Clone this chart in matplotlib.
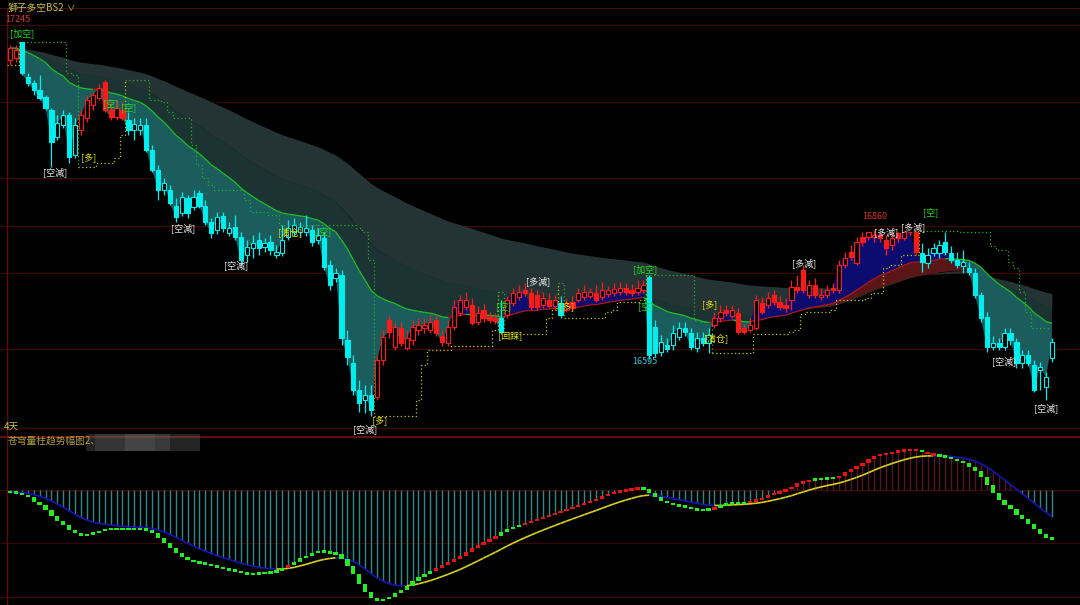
import numpy as np
import pandas as pd
import matplotlib
matplotlib.use('Agg')
import matplotlib.pyplot as plt
from matplotlib.collections import LineCollection

plt.rcParams['font.family'] = ['Noto Sans CJK SC', 'DejaVu Sans']

# ---- price bars ----
open_ = [17208, 17212, 17245, 17173, 17161, 17147, 17132, 17106, 17050, 17075,
         17095, 17013, 17065, 17089, 17116, 17130, 17163, 17106, 17091, 17106,
         17085, 17065, 17065, 17075, 17024, 16983, 16942, 16942, 16909, 16894,
         16925, 16907, 16935, 16909, 16876, 16860, 16888, 16853, 16866, 16845,
         16808, 16823, 16839, 16825, 16835, 16808, 16812, 16845, 16855, 16855,
         16855, 16860, 16839, 16843, 16788, 16761, 16767, 16634, 16587, 16531,
         16511, 16521, 16517, 16593, 16675, 16620, 16659, 16618, 16634, 16655,
         16659, 16655, 16675, 16642, 16628, 16661, 16689, 16702, 16706, 16671,
         16696, 16681, 16679, 16679, 16685, 16710, 16722, 16737, 16730, 16726,
         16706, 16716, 16704, 16710, 16696, 16712, 16716, 16722, 16724, 16730,
         16722, 16728, 16730, 16732, 16741, 16737, 16732, 16737, 16763, 16661,
         16609, 16624, 16624, 16640, 16659, 16648, 16618, 16638, 16628, 16665,
         16679, 16696, 16683, 16689, 16659, 16655, 16659, 16710, 16706, 16726,
         16712, 16706, 16716, 16743, 16778, 16726, 16747, 16722, 16726, 16741,
         16737, 16788, 16814, 16792, 16845, 16845, 16845, 16849, 16839, 16829,
         16853, 16843, 16856, 16855, 16812, 16792, 16812, 16812, 16835, 16812,
         16798, 16786, 16782, 16771, 16726, 16681, 16620, 16628, 16620, 16648,
         16630, 16587, 16603, 16583, 16573, 16538, 16597]
high = [17239, 17239, 17245, 17181, 17167, 17177, 17136, 17110, 17095, 17106,
        17101, 17089, 17106, 17136, 17142, 17159, 17167, 17126, 17126, 17122,
        17101, 17089, 17089, 17089, 17034, 16993, 16966, 16952, 16925, 16937,
        16931, 16942, 16942, 16921, 16884, 16896, 16896, 16876, 16890, 16855,
        16839, 16849, 16855, 16843, 16849, 16829, 16870, 16880, 16884, 16876,
        16890, 16870, 16864, 16855, 16798, 16782, 16778, 16655, 16603, 16552,
        16542, 16542, 16603, 16655, 16685, 16671, 16671, 16655, 16675, 16679,
        16679, 16685, 16685, 16655, 16675, 16716, 16726, 16732, 16720, 16704,
        16708, 16691, 16689, 16716, 16724, 16741, 16747, 16751, 16741, 16737,
        16732, 16730, 16726, 16724, 16720, 16724, 16741, 16747, 16741, 16747,
        16753, 16745, 16751, 16753, 16751, 16749, 16757, 16757, 16767, 16675,
        16644, 16638, 16665, 16671, 16671, 16659, 16650, 16650, 16659, 16691,
        16706, 16706, 16706, 16700, 16667, 16679, 16726, 16722, 16732, 16737,
        16724, 16720, 16757, 16767, 16788, 16757, 16761, 16741, 16747, 16751,
        16798, 16814, 16829, 16845, 16855, 16856, 16860, 16856, 16849, 16855,
        16855, 16858, 16858, 16858, 16833, 16823, 16833, 16839, 16855, 16827,
        16814, 16819, 16794, 16782, 16732, 16691, 16642, 16638, 16659, 16659,
        16638, 16614, 16614, 16593, 16589, 16568, 16638]
low = [17198, 17204, 17177, 17155, 17136, 17126, 17106, 16989, 17044, 17069,
       16997, 17007, 17054, 17081, 17106, 17126, 17101, 17085, 17085, 17085,
       17054, 17044, 17054, 17019, 16978, 16921, 16931, 16911, 16876, 16888,
       16884, 16901, 16905, 16870, 16843, 16851, 16855, 16847, 16839, 16788,
       16794, 16802, 16808, 16814, 16808, 16802, 16806, 16839, 16847, 16847,
       16847, 16827, 16831, 16778, 16737, 16753, 16624, 16583, 16521, 16486,
       16484, 16478, 16511, 16583, 16638, 16614, 16622, 16614, 16624, 16644,
       16648, 16648, 16642, 16622, 16622, 16655, 16683, 16696, 16665, 16665,
       16671, 16669, 16667, 16646, 16679, 16704, 16716, 16724, 16696, 16696,
       16700, 16700, 16696, 16679, 16691, 16696, 16712, 16716, 16720, 16712,
       16716, 16722, 16724, 16726, 16726, 16724, 16726, 16730, 16595, 16599,
       16601, 16609, 16614, 16634, 16642, 16614, 16609, 16622, 16607, 16659,
       16671, 16683, 16679, 16646, 16646, 16650, 16655, 16687, 16700, 16706,
       16696, 16691, 16696, 16730, 16730, 16720, 16720, 16716, 16720, 16730,
       16730, 16782, 16798, 16788, 16827, 16839, 16835, 16835, 16808, 16819,
       16835, 16839, 16849, 16808, 16773, 16782, 16806, 16802, 16808, 16792,
       16782, 16771, 16767, 16720, 16671, 16609, 16614, 16614, 16614, 16624,
       16577, 16577, 16581, 16527, 16531, 16511, 16589]
close = [17233, 17229, 17181, 17161, 17147, 17130, 17110, 17040, 17079, 17095,
         17009, 17075, 17095, 17126, 17136, 17151, 17106, 17091, 17110, 17089,
         17065, 17077, 17075, 17024, 16983, 16942, 16956, 16915, 16886, 16927,
         16894, 16927, 16909, 16876, 16853, 16886, 16864, 16864, 16845, 16798,
         16825, 16833, 16823, 16833, 16819, 16814, 16839, 16864, 16870, 16866,
         16864, 16835, 16849, 16784, 16747, 16771, 16638, 16599, 16531, 16505,
         16521, 16490, 16593, 16640, 16650, 16661, 16628, 16638, 16661, 16665,
         16665, 16671, 16648, 16630, 16661, 16702, 16716, 16716, 16669, 16689,
         16679, 16675, 16673, 16650, 16716, 16730, 16732, 16730, 16702, 16702,
         16720, 16704, 16716, 16685, 16710, 16700, 16730, 16732, 16732, 16716,
         16737, 16737, 16739, 16741, 16732, 16730, 16741, 16747, 16603, 16607,
         16630, 16616, 16648, 16659, 16650, 16620, 16638, 16628, 16644, 16679,
         16691, 16689, 16696, 16650, 16650, 16665, 16716, 16691, 16720, 16712,
         16702, 16700, 16743, 16737, 16737, 16747, 16726, 16726, 16737, 16737,
         16788, 16802, 16804, 16835, 16835, 16855, 16849, 16843, 16823, 16843,
         16843, 16856, 16855, 16814, 16794, 16808, 16823, 16829, 16814, 16798,
         16788, 16794, 16773, 16726, 16679, 16620, 16628, 16620, 16648, 16634,
         16587, 16603, 16587, 16531, 16579, 16558, 16630]

# trend state of the candles: first bar of each run
trend_start = [0, 2, 12, 20, 62, 83, 84, 93, 94, 108, 119, 154]
trend_kind = ['up', 'dn', 'up', 'dn', 'up', 'dn', 'up', 'dn', 'up', 'dn', 'up', 'dn']

# ---- lower oscillator ----
osc = [-2, -3, -5, -7, -12, -15, -20, -26, -31, -35,
       -40, -43, -46, -44, -43, -41, -39, -39, -39, -39,
       -39, -39, -39, -40, -43, -48, -53, -58, -63, -67,
       -70, -72, -73, -74, -76, -77, -79, -80, -81, -83,
       -84, -84, -83, -83, -82, -81, -78, -75, -72, -68,
       -66, -63, -61, -62, -63, -64, -69, -76, -84, -94,
       -102, -108, -111, -109, -107, -103, -100, -96, -91, -87,
       -84, -81, -78, -75, -72, -69, -66, -62, -58, -55,
       -52, -49, -46, -42, -39, -37, -35, -33, -31, -29,
       -27, -25, -23, -21, -19, -17, -15, -13, -11, -9,
       -6, -4, -2, -1, 0, 1, 2, 1, -3, -7,
       -11, -13, -15, -16, -17, -19, -20, -20, -19, -18,
       -15, -14, -13, -13, -13, -11, -10, -8, -5, -3,
       -2, 1, 3, 7, 8, 10, 11, 11, 12, 12,
       14, 18, 21, 24, 27, 31, 34, 36, 36, 38,
       39, 40, 40, 40, 38, 36, 35, 34, 33, 31,
       29, 27, 23, 19, 13, 5, -3, -10, -15, -19,
       -25, -29, -34, -39, -44, -48, -49]
sq_start = [0, 47, 48, 72, 83, 87, 107, 119, 120, 125, 136, 140, 154, 155, 157]
sq_kind = ['g', 'r', 'g', 'r', 'g', 'r', 'g', 'r', 'g', 'r', 'g', 'r', 'g', 'r', 'g']

# ---- signal labels ----
lab_idx = [2, 17, 20, 7.6, 13.2, 29.2, 38.2, 47.3, 53, 60, 62.5, 89.2, 83.3, 84.5,
           94, 107.3, 107.3, 118.2, 119.3, 134.1, 148, 152.5, 155.5, 168, 175]
lab_price = [17263, 17118, 17110, 16978, 17007, 16864, 16788, 16855, 16855, 16450,
             16468, 16755, 16702, 16642, 16700, 16780, 16702, 16704, 16638, 16792,
             16855, 16866, 16894, 16591, 16495]
lab_text = ['[加空]', '[空]', '[空]', '[空減]', '[多]', '[空減]', '[空減]', '[清仓]', '[空]',
            '[空減]', '[多]', '[多減]', '[空]', '[回踩]', '[多]', '[加空]', '[空]', '[多]',
            '[清仓]', '[多減]', '[多減]', '[多減]', '[空]', '[空減]', '[空減]']
lab_kind = ['g', 'g', 'g', 'w', 'y', 'w', 'w', 'y', 'g', 'w', 'y', 'w', 'g', 'y', 'y',
            'g', 'g', 'y', 'y', 'w', 'w', 'w', 'g', 'w', 'w']

grid_prices = [17280, 17122, 16966, 16868, 16771, 16616, 16454]

# ---------------------------------------------------------------
n = len(close)
x = np.arange(n)
o = np.array(open_, float)
h = np.array(high, float)
l = np.array(low, float)
c = np.array(close, float)

trend = np.empty(n, dtype=object)
for k, s in enumerate(trend_start):
    e = trend_start[k + 1] if k + 1 < len(trend_start) else n
    trend[s:e] = trend_kind[k]

cs = pd.Series(c)
T = cs.ewm(span=25, adjust=False).mean().values
L1 = cs.ewm(span=45, adjust=False).mean().values
L2 = cs.ewm(span=90, adjust=False).mean().values

fig = plt.figure(figsize=(10.8, 6.05), dpi=100, facecolor='black')
ax = fig.add_axes([0, 1 - 436 / 605, 1, 428 / 605], facecolor='black')
ax2 = fig.add_axes([0, 0, 1, 169 / 605], facecolor='black')

xlim = (-10 / 5.92, 1070 / 5.92)
ax.set_xlim(*xlim)
ax.set_ylim(16437, 17315)
ax2.set_xlim(*xlim)
ax2.set_ylim(-115, 54)

for a in (ax, ax2):
    a.set_xticks([])
    a.set_yticks([])
    for sp in a.spines.values():
        sp.set_visible(False)

for gp in grid_prices:
    ax.axhline(gp, color='#3a0707', lw=0.8, zorder=0)
ax.axhline(17315, color='#4a0c0c', lw=1.5)
ax.axvline(-3 / 5.92, color='#5a0e0e', lw=1)
ax2.axvline(-3 / 5.92, color='#5a0e0e', lw=1)
ax2.axhline(53.5, color='#7a1010', lw=1.2)
for gv in [0, -53, -107]:
    ax2.axhline(gv, color='#3a0707', lw=0.8, zorder=0)

# long bands
ax.fill_between(x, L1, L2, color='#243434', lw=0, zorder=1)
ax.fill_between(x, T, L1, where=T < L1, interpolate=True, color='#1b3333', lw=0, zorder=1)
ax.fill_between(x, T, L1, where=T >= L1, interpolate=True, color='#5a1616', lw=0, zorder=1)
# price vs trend line
ax.fill_between(x, c, T, where=c < T, interpolate=True, color='#1b5c5c', lw=0, zorder=1.5)
ax.fill_between(x, c, T, where=c >= T, interpolate=True, color='#0c0c70', lw=0, zorder=1.5)

segs = [[(x[i], T[i]), (x[i + 1], T[i + 1])] for i in range(n - 1)]
seg_col = ['#22c022' if c[i + 1] < T[i + 1] else '#b01818' for i in range(n - 1)]
ax.add_collection(LineCollection(segs, colors=seg_col, linewidths=0.9, zorder=2))

# dotted trailing stops
stop = np.full(n, np.nan)
for i in range(n):
    lo = max(0, i - 7)
    if trend[i] == 'up':
        v = l[lo:i + 1].min()
        if i > 0 and trend[i - 1] == 'up':
            v = max(v, stop[i - 1])
    else:
        v = h[lo:i + 1].max()
        if i > 0 and trend[i - 1] == 'dn':
            v = min(v, stop[i - 1])
    stop[i] = v
for k, s in enumerate(trend_start):
    e = trend_start[k + 1] if k + 1 < len(trend_start) else n
    xs = np.arange(s, min(e + 1, n))
    col = '#c8c800' if trend_kind[k] == 'up' else '#22b022'
    ax.plot(xs - 0.5, stop[xs], drawstyle='steps-post', ls=(0, (1, 2)), color=col, lw=0.9, zorder=2)

# candles
cyan = '#00eeee'
red = '#ff1a1a'
for i in range(n):
    col = red if trend[i] == 'up' else cyan
    ax.vlines(x[i], l[i], h[i], color=col, lw=0.9, zorder=3)
    bot = min(o[i], c[i])
    hgt = max(abs(c[i] - o[i]), 1.5)
    filled = c[i] < o[i]
    ax.bar(x[i], hgt, bottom=bot, width=0.72, color=col if filled else 'black',
           edgecolor=col, lw=0.8, zorder=4)

# labels
lab_col = {'g': '#22dd22', 'w': '#e8e8e8', 'y': '#e6e600'}
for xi, pi, t, k in zip(lab_idx, lab_price, lab_text, lab_kind):
    ax.text(xi, pi, t, color=lab_col[k], fontsize=6.5, ha='center', va='center', zorder=6)
ax.text(1.4, 17292, '17245', color='#e03030', fontsize=6.5, ha='center', va='center', zorder=6)
ax.text(107.3, 16589, '16595', color='#30c8d8', fontsize=6.5, ha='center', va='center', zorder=6)
ax.text(146, 16888, '16860', color='#e03030', fontsize=6.5, ha='center', va='center', zorder=6)

fig.text(8 / 1080, 1 - 8 / 605, '獅子多空BS2', color='#c8c050', fontsize=7, va='center')
fig.text(66 / 1080, 1 - 8 / 605, '∨', color='#c8c050', fontsize=6, va='center')
fig.text(4 / 1080, 1 - 427 / 605, '4天', color='#c8c050', fontsize=7, va='center')
fig.text(8 / 1080, 1 - 441 / 605, '苍穹量柱趋势幅图2、', color='#b0a040', fontsize=7, va='center')
# blurred (masked) part of the indicator title
for bx, bw, ba in [(86, 114, 0.35), (95, 60, 0.25), (125, 45, 0.3)]:
    fig.patches.append(plt.Rectangle((bx / 1080, 1 - 451 / 605), bw / 1080, 17 / 605,
                                     transform=fig.transFigure, color='#6a6a6a',
                                     alpha=ba, lw=0))

# ---- lower panel ----
F = np.array(osc, float)
S = pd.Series(F).ewm(span=12, adjust=False).mean().values
H = np.maximum(F, S)
ax2.vlines(x, 0, H, colors=['#2e8888' if v < 0 else '#5a1818' for v in H], lw=1, zorder=1)

ssegs = [[(x[i], S[i]), (x[i + 1], S[i + 1])] for i in range(n - 1)]
scol = ['#d8d020' if F[i + 1] >= S[i + 1] else '#1414b8' for i in range(n - 1)]
ax2.add_collection(LineCollection(ssegs, colors=scol, linewidths=1.2, zorder=2))

sq = np.empty(n, dtype=object)
for k, s in enumerate(sq_start):
    e = sq_start[k + 1] if k + 1 < len(sq_start) else n
    sq[s:e] = sq_kind[k]
Fprev = np.concatenate([[F[0]], F[:-1]])
for i in range(n):
    d = abs(F[i] - Fprev[i])
    hh = max(d, 2.2)
    mid = (F[i] + Fprev[i]) / 2
    ax2.bar(x[i], hh, bottom=mid - hh / 2, width=0.72,
            color='#ee1111' if sq[i] == 'r' else '#22ee22', lw=0, zorder=3)

fig.savefig('out.png', dpi=100, facecolor='black')
